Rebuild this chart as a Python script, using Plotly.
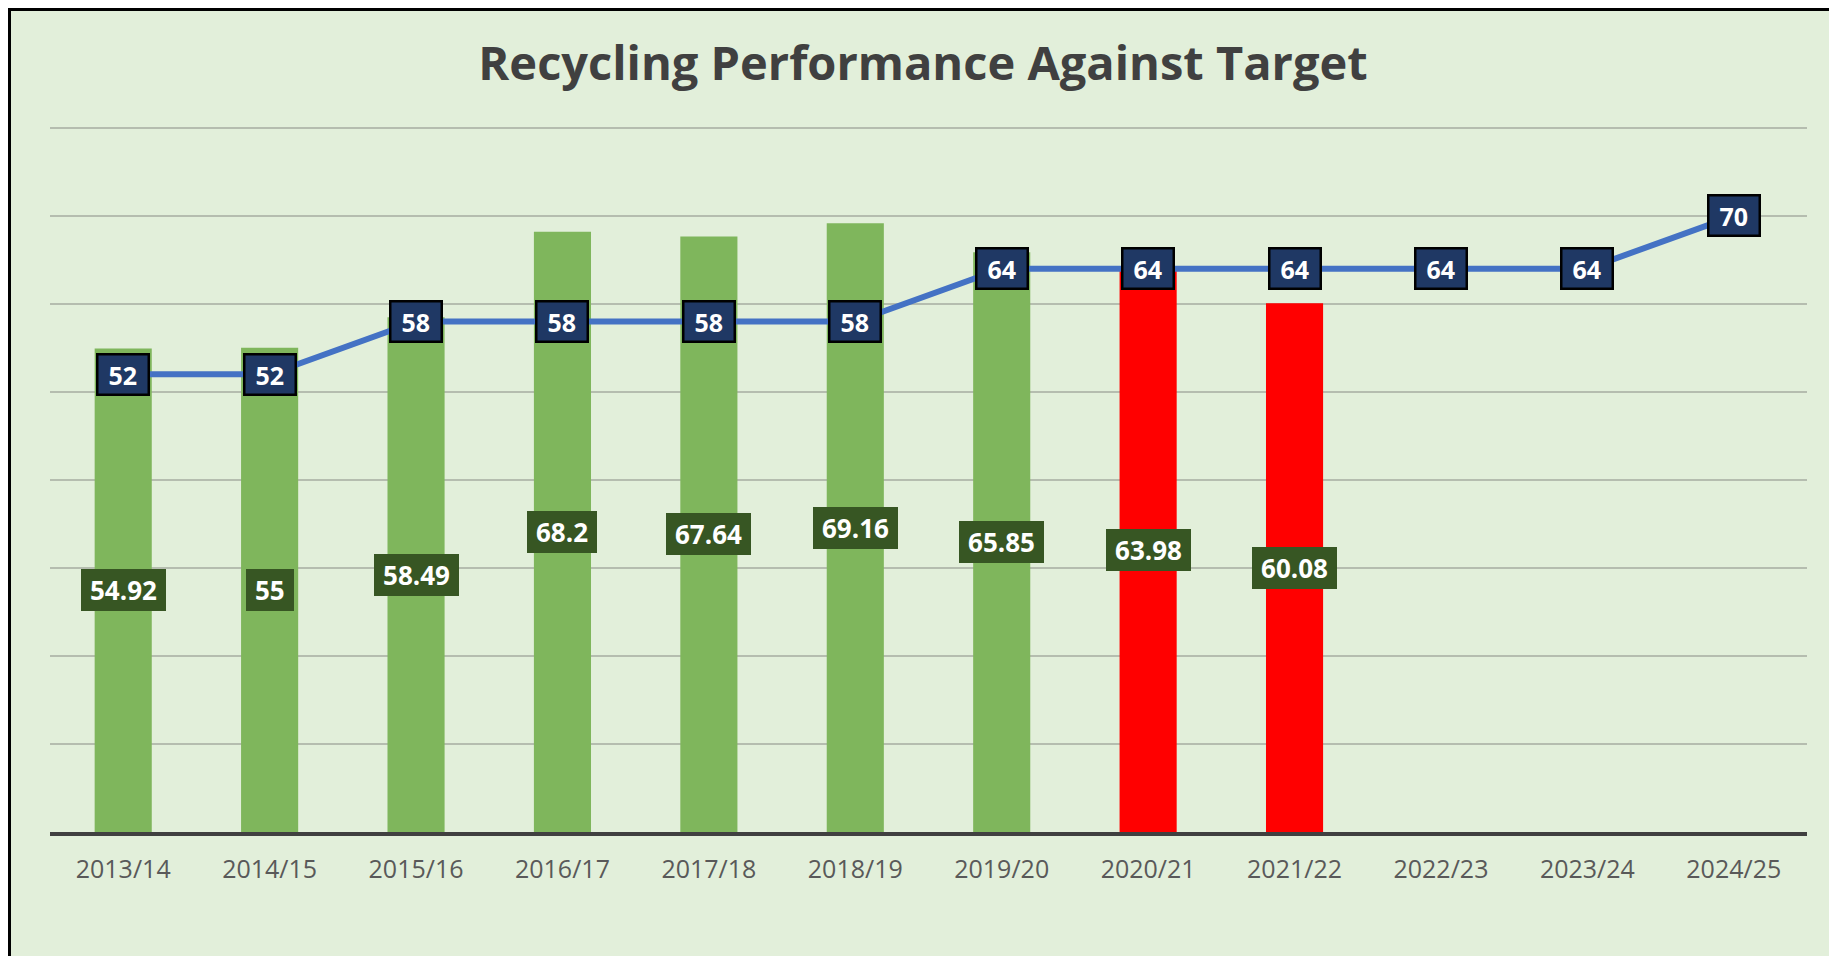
import plotly.graph_objects as go

# ---------------- data ----------------
years = ["2013/14", "2014/15", "2015/16", "2016/17", "2017/18", "2018/19",
         "2019/20", "2020/21", "2021/22", "2022/23", "2023/24", "2024/25"]
actual = [54.92, 55, 58.49, 68.2, 67.64, 69.16, 65.85, 63.98, 60.08]
target = [52, 52, 58, 58, 58, 58, 64, 64, 64, 64, 64, 70]

# ---------------- style ----------------
OFF = 8                      # default page margin of the html body
W, H = 1837 - OFF, 956 - OFF
YMAX = 81
L = 50 - OFF
R = W - (1807 - OFF)
B = H - (832 - OFF)
T = H - B - round(YMAX * 8.8)
BG = "#E2EFDA"
GREEN = "#7FB65C"
RED = "#FF0000"
LINE = "#4472C4"
NAVY = "#1F3864"
DKGREEN = "#375623"
FONT = "Open Sans"

bar_years = years[:len(actual)]
bar_colors = [GREEN if a >= t else RED for a, t in zip(actual, target)]

fig = go.Figure()
fig.add_trace(go.Bar(
    x=bar_years, y=actual, marker=dict(color=bar_colors, line=dict(width=0)),
    hoverinfo="x+y", showlegend=False,
))
fig.add_trace(go.Scatter(
    x=years, y=target, mode="lines", line=dict(color=LINE, width=6),
    hoverinfo="x+y", showlegend=False,
))


def fmt(v):
    return f"{v:g}"


def text_w(s, size):
    w = 0.0
    for ch in s:
        w += 0.29 * size if ch == "." else 0.572 * size
    return w


annotations = []
for x, v in zip(bar_years, actual):
    s = fmt(v)
    annotations.append(dict(
        x=x, y=v / 2, xref="x", yref="y", text=s, showarrow=False,
        font=dict(family=FONT, size=26, color="white", weight=700),
        bgcolor=DKGREEN, borderpad=0, borderwidth=0,
        width=text_w(s, 26) + 18, height=42, align="center", valign="middle",
    ))
for x, v in zip(years, target):
    s = fmt(v)
    annotations.append(dict(
        x=x, y=v, xref="x", yref="y", text=s, showarrow=False,
        font=dict(family=FONT, size=25, color="white", weight=700),
        bgcolor=NAVY, bordercolor="black", borderwidth=2.5, borderpad=0,
        width=text_w(s, 25) + 20, height=38, align="center", valign="middle",
    ))

plotW = W - L - R
plotH = H - T - B
px2x = lambda p: (p - L) / plotW
px2y = lambda p: 1 - (p - T) / plotH

frame = dict(color="black", width=3)
RB = 1834 - OFF
shapes = [
    dict(type="line", xref="paper", yref="paper", x0=px2x(1.5), x1=px2x(1.5),
         y0=px2y(H), y1=px2y(0), line=frame),
    dict(type="line", xref="paper", yref="paper", x0=px2x(0), x1=px2x(RB),
         y0=px2y(1.5), y1=px2y(1.5), line=frame),
    dict(type="line", xref="paper", yref="paper", x0=px2x(RB), x1=px2x(RB),
         y0=px2y(H), y1=px2y(0), line=frame),
    dict(type="rect", xref="paper", yref="paper", x0=px2x(RB + 1.5), x1=px2x(W),
         y0=px2y(H), y1=px2y(0), fillcolor="white", line=dict(width=0)),
]

fig.update_layout(
    width=W, height=H,
    margin=dict(l=L, r=R, t=T, b=B, autoexpand=False),
    paper_bgcolor=BG, plot_bgcolor=BG,
    bargap=0.61,
    title=dict(
        text="Recycling Performance Against Target",
        font=dict(family=FONT, size=47, color="#404040", weight=700),
        x=(923 - OFF) / W, xanchor="center", xref="container",
        y=1 - (64 - OFF) / H, yanchor="middle", yref="container",
    ),
    xaxis=dict(
        type="category", categoryorder="array", categoryarray=years,
        showgrid=False, showline=True, linecolor="#404040", linewidth=4,
        ticks="", ticklabelstandoff=12,
        tickfont=dict(family=FONT, size=25, color="#595959"),
        range=[-0.5, len(years) - 0.5], fixedrange=True,
    ),
    yaxis=dict(
        range=[0, YMAX], tickvals=[10, 20, 30, 40, 50, 60, 70, 80],
        showticklabels=False, zeroline=False,
        showgrid=True, gridcolor="#B5BDAF", gridwidth=2, fixedrange=True,
    ),
    annotations=annotations,
    shapes=shapes,
)

fig.write_html("out.html")
